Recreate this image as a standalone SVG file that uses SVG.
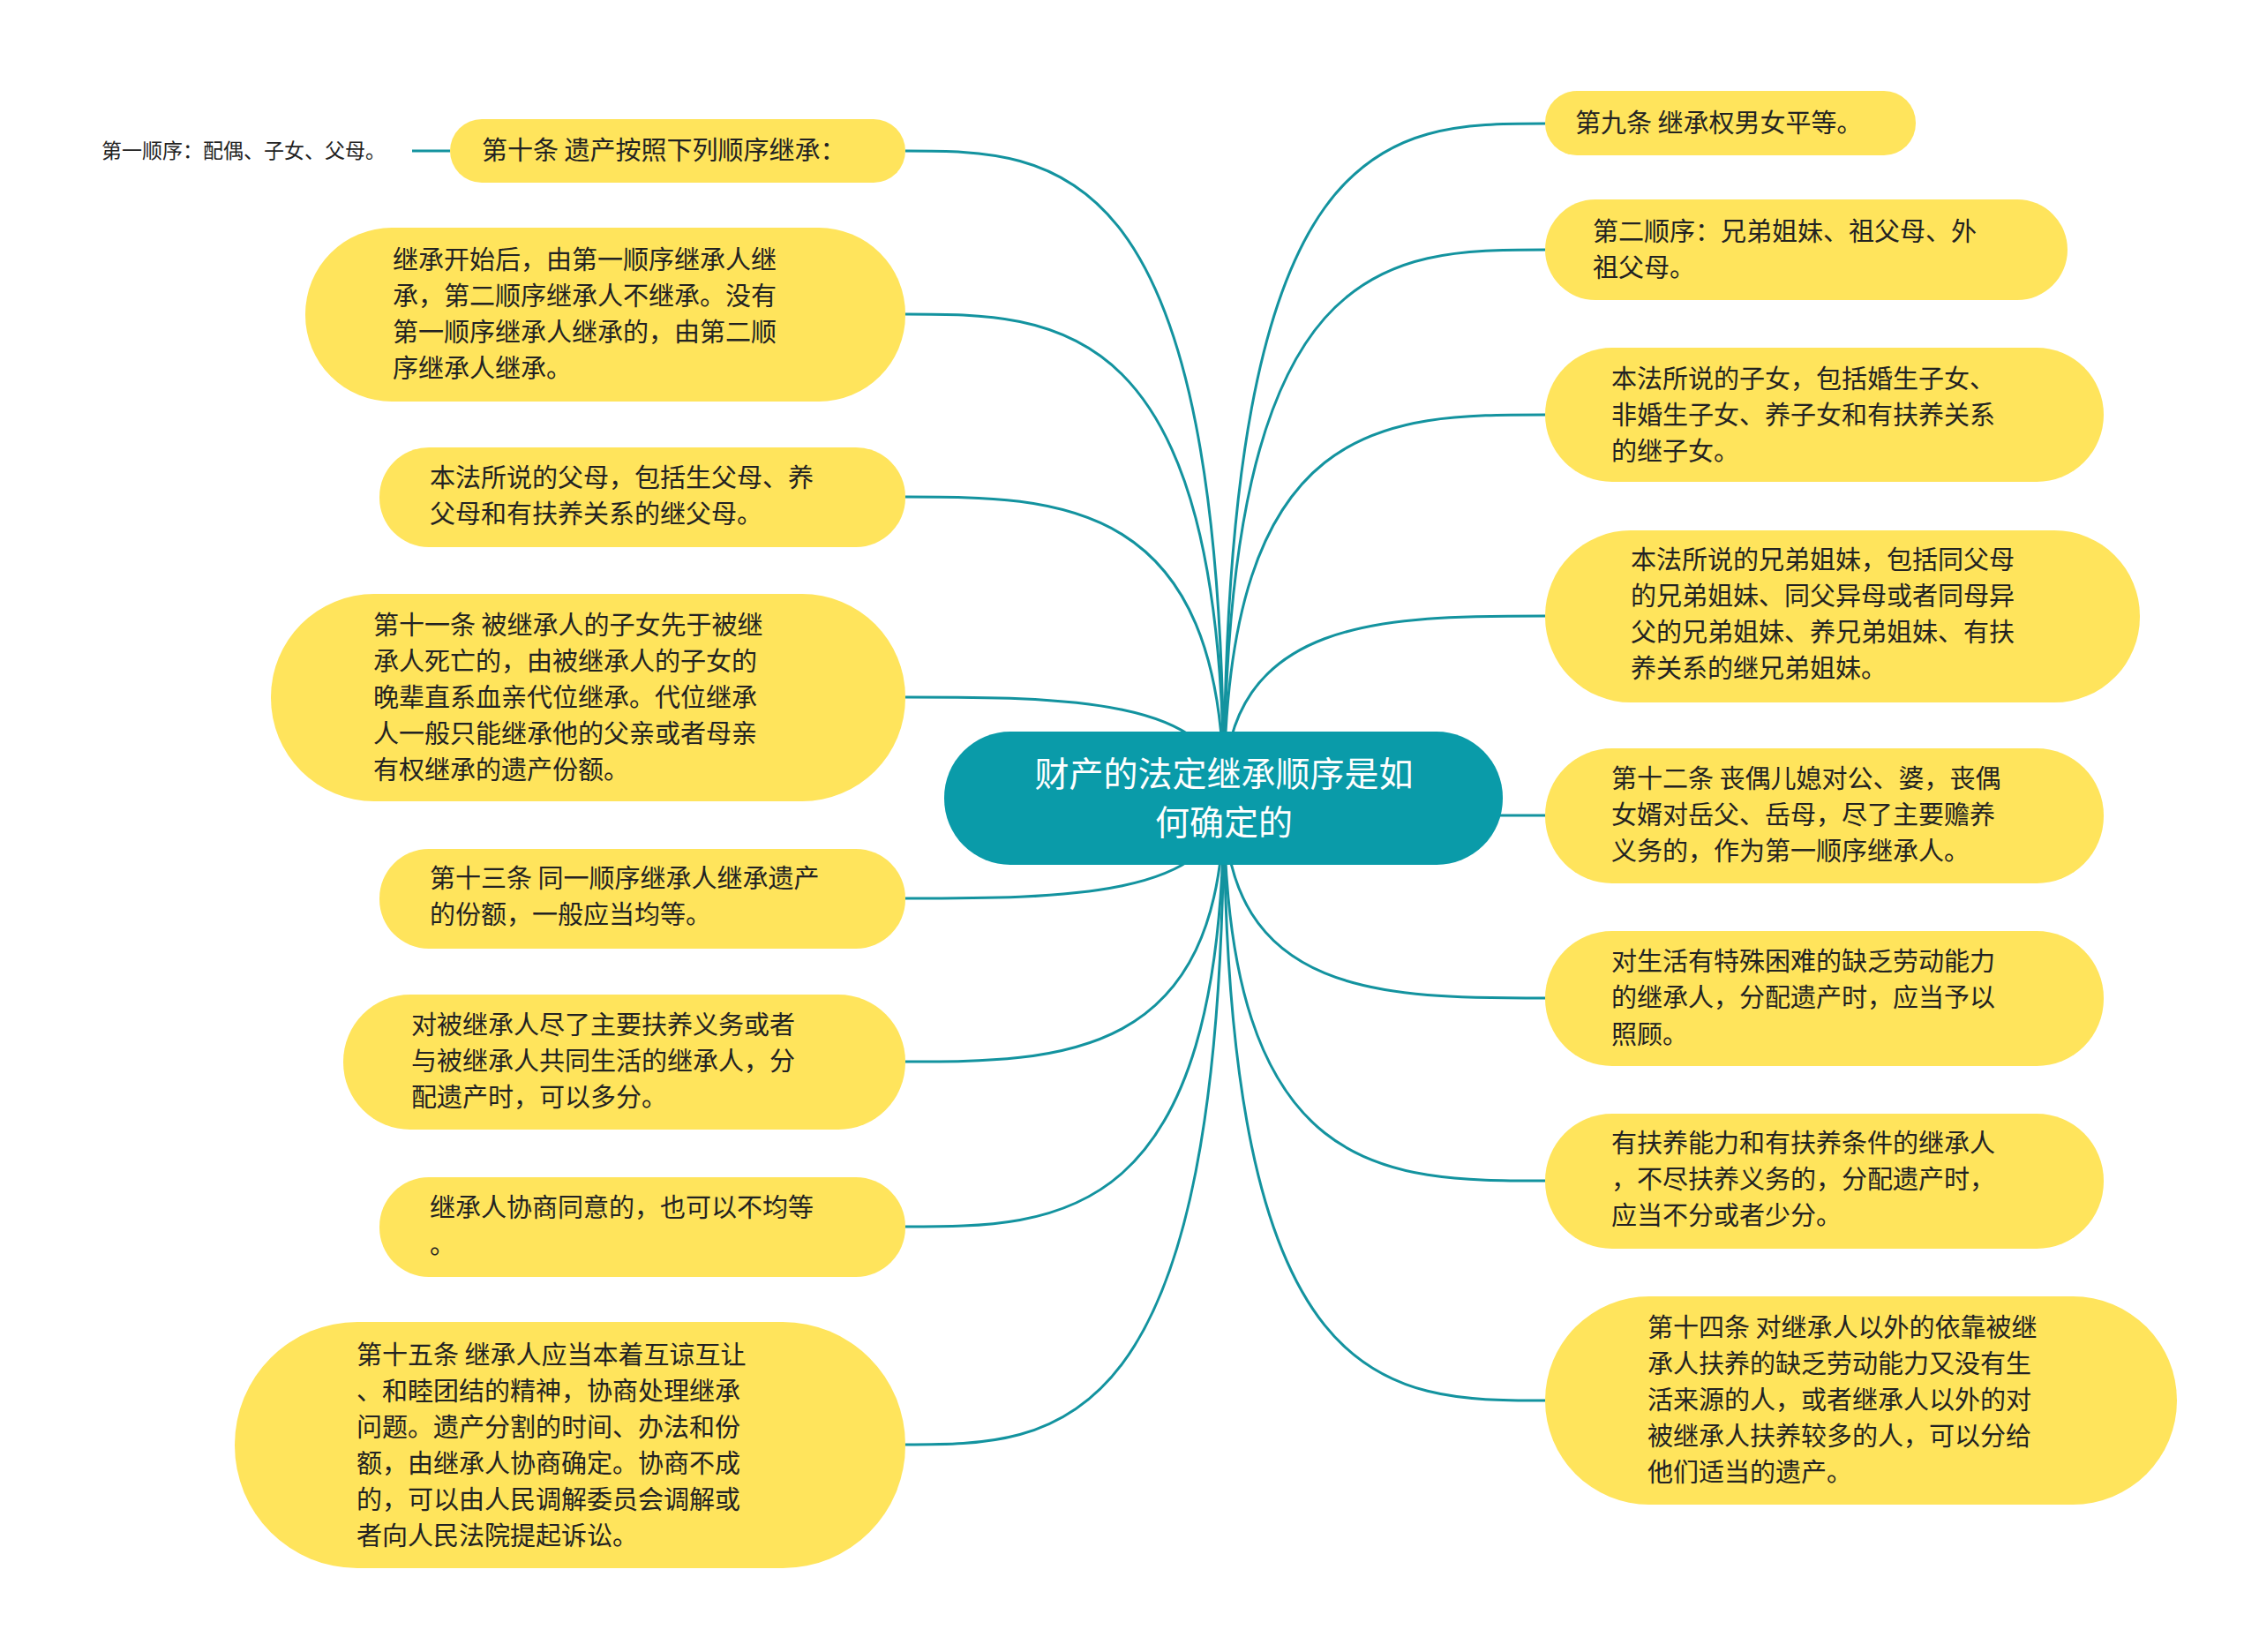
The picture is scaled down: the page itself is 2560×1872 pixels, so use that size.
<svg xmlns="http://www.w3.org/2000/svg" width="2560" height="1872" viewBox="0 0 2560 1872">
<style>
.n{fill:#FFE45C}
.t{font-family:"Noto Sans CJK SC","Noto Sans",sans-serif;font-size:29px;fill:#222}
.c path{fill:none;stroke:#13939F;stroke-width:3}
</style>
<rect width="2560" height="1872" fill="#fff"/>
<g class="c">
<path d="M1387 904 C1387 171 1200 171 1026 171"/>
<path d="M1387 904 C1387 356 1200 356 1026 356"/>
<path d="M1387 904 C1387 563 1200 563 1026 563"/>
<path d="M1387 904 C1387 790 1200 790 1026 790"/>
<path d="M1387 904 C1387 1018 1200 1018 1026 1018"/>
<path d="M1387 904 C1387 1203 1200 1203 1026 1203"/>
<path d="M1387 904 C1387 1390 1200 1390 1026 1390"/>
<path d="M1387 904 C1387 1637 1200 1637 1026 1637"/>
<path d="M1387 904 C1387 140 1570 140 1751 140"/>
<path d="M1387 904 C1387 283 1570 283 1751 283"/>
<path d="M1387 904 C1387 470 1570 470 1751 470"/>
<path d="M1387 904 C1387 698 1570 698 1751 698"/>
<path d="M1387 904 C1387 924 1570 924 1751 924"/>
<path d="M1387 904 C1387 1131 1570 1131 1751 1131"/>
<path d="M1387 904 C1387 1338 1570 1338 1751 1338"/>
<path d="M1387 904 C1387 1587 1570 1587 1751 1587"/>
<path d="M467 171 L510 171"/>
</g>
<g id="center"><rect x="1070" y="829" width="633" height="151" rx="75" fill="#0A9BA9"/>
<text x="1387" y="891" text-anchor="middle" font-family="Noto Sans CJK SC,sans-serif" font-size="39" fill="#fff">财产的法定继承顺序是如</text>
<text x="1387" y="946" text-anchor="middle" font-family="Noto Sans CJK SC,sans-serif" font-size="39" fill="#fff">何确定的</text></g>
<g id="leaf"><text x="115" y="179" font-family="Noto Sans CJK SC,sans-serif" font-size="23" fill="#222">第一顺序：配偶、子女、父母。</text></g>
<g id="l1"><rect class="n" x="510" y="135" width="516" height="72" rx="36"/><text class="t" x="546" y="181">第十条 遗产按照下列顺序继承：</text></g>
<g id="l2"><rect class="n" x="346" y="258" width="680" height="197" rx="98"/><text class="t" x="445"><tspan x="445" y="305">继承开始后，由第一顺序继承人继</tspan><tspan x="445" y="346">承，第二顺序继承人不继承。没有</tspan><tspan x="445" y="387">第一顺序继承人继承的，由第二顺</tspan><tspan x="445" y="428">序继承人继承。</tspan></text></g>
<g id="l3"><rect class="n" x="430" y="507" width="596" height="113" rx="56"/><text class="t"><tspan x="487" y="552">本法所说的父母，包括生父母、养</tspan><tspan x="487" y="593">父母和有扶养关系的继父母。</tspan></text></g>
<g id="l4"><rect class="n" x="307" y="673" width="719" height="235" rx="117"/><text class="t"><tspan x="423" y="719">第十一条 被继承人的子女先于被继</tspan><tspan x="423" y="760">承人死亡的，由被继承人的子女的</tspan><tspan x="423" y="801">晚辈直系血亲代位继承。代位继承</tspan><tspan x="423" y="842">人一般只能继承他的父亲或者母亲</tspan><tspan x="423" y="883">有权继承的遗产份额。</tspan></text></g>
<g id="l5"><rect class="n" x="430" y="962" width="596" height="113" rx="56"/><text class="t"><tspan x="487" y="1006">第十三条 同一顺序继承人继承遗产</tspan><tspan x="487" y="1047">的份额，一般应当均等。</tspan></text></g>
<g id="l6"><rect class="n" x="389" y="1127" width="637" height="153" rx="76"/><text class="t"><tspan x="466" y="1172">对被继承人尽了主要扶养义务或者</tspan><tspan x="466" y="1213">与被继承人共同生活的继承人，分</tspan><tspan x="466" y="1254">配遗产时，可以多分。</tspan></text></g>
<g id="l7"><rect class="n" x="430" y="1334" width="596" height="113" rx="56"/><text class="t"><tspan x="487" y="1379">继承人协商同意的，也可以不均等</tspan><tspan x="487" y="1421">。</tspan></text></g>
<g id="l8"><rect class="n" x="266" y="1498" width="760" height="279" rx="139"/><text class="t"><tspan x="404" y="1546">第十五条 继承人应当本着互谅互让</tspan><tspan x="404" y="1587">、和睦团结的精神，协商处理继承</tspan><tspan x="404" y="1628">问题。遗产分割的时间、办法和份</tspan><tspan x="404" y="1669">额，由继承人协商确定。协商不成</tspan><tspan x="404" y="1710">的，可以由人民调解委员会调解或</tspan><tspan x="404" y="1751">者向人民法院提起诉讼。</tspan></text></g>
<g id="r1"><rect class="n" x="1751" y="103" width="420" height="73" rx="36"/><text class="t" x="1785" y="150">第九条 继承权男女平等。</text></g>
<g id="r2"><rect class="n" x="1751" y="226" width="592" height="114" rx="57"/><text class="t"><tspan x="1805" y="273">第二顺序：兄弟姐妹、祖父母、外</tspan><tspan x="1805" y="314">祖父母。</tspan></text></g>
<g id="r3"><rect class="n" x="1751" y="394" width="633" height="152" rx="76"/><text class="t"><tspan x="1826" y="440">本法所说的子女，包括婚生子女、</tspan><tspan x="1826" y="481">非婚生子女、养子女和有扶养关系</tspan><tspan x="1826" y="522">的继子女。</tspan></text></g>
<g id="r4"><rect class="n" x="1751" y="601" width="674" height="195" rx="97"/><text class="t"><tspan x="1848" y="645">本法所说的兄弟姐妹，包括同父母</tspan><tspan x="1848" y="686">的兄弟姐妹、同父异母或者同母异</tspan><tspan x="1848" y="727">父的兄弟姐妹、养兄弟姐妹、有扶</tspan><tspan x="1848" y="768">养关系的继兄弟姐妹。</tspan></text></g>
<g id="r5"><rect class="n" x="1751" y="848" width="633" height="153" rx="76"/><text class="t"><tspan x="1826" y="893">第十二条 丧偶儿媳对公、婆，丧偶</tspan><tspan x="1826" y="934">女婿对岳父、岳母，尽了主要赡养</tspan><tspan x="1826" y="975">义务的，作为第一顺序继承人。</tspan></text></g>
<g id="r6"><rect class="n" x="1751" y="1055" width="633" height="153" rx="76"/><text class="t"><tspan x="1826" y="1100">对生活有特殊困难的缺乏劳动能力</tspan><tspan x="1826" y="1141">的继承人，分配遗产时，应当予以</tspan><tspan x="1826" y="1183">照顾。</tspan></text></g>
<g id="r7"><rect class="n" x="1751" y="1262" width="633" height="153" rx="76"/><text class="t"><tspan x="1826" y="1306">有扶养能力和有扶养条件的继承人</tspan><tspan x="1826" y="1347">，不尽扶养义务的，分配遗产时，</tspan><tspan x="1826" y="1388">应当不分或者少分。</tspan></text></g>
<g id="r8"><rect class="n" x="1751" y="1469" width="716" height="236" rx="118"/><text class="t"><tspan x="1867" y="1515">第十四条 对继承人以外的依靠被继</tspan><tspan x="1867" y="1556">承人扶养的缺乏劳动能力又没有生</tspan><tspan x="1867" y="1597">活来源的人，或者继承人以外的对</tspan><tspan x="1867" y="1638">被继承人扶养较多的人，可以分给</tspan><tspan x="1867" y="1679">他们适当的遗产。</tspan></text></g>
</svg>
